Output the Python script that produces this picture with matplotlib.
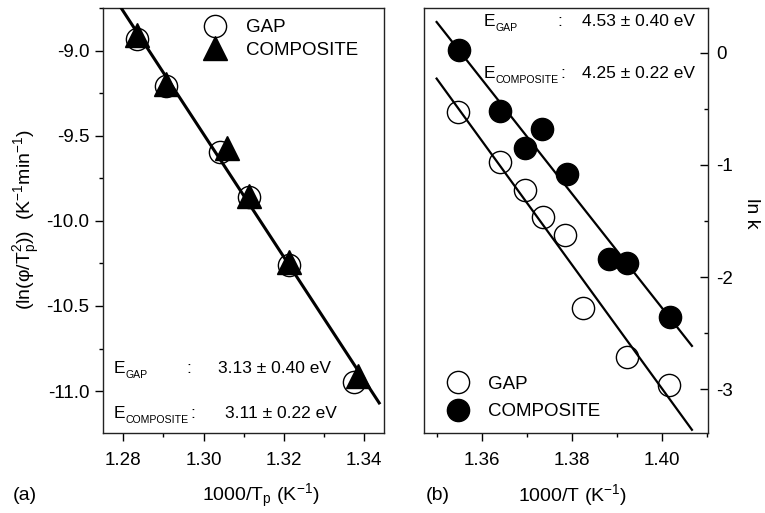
import matplotlib
matplotlib.use('Agg')
import matplotlib.pyplot as plt
from matplotlib.ticker import MultipleLocator

plt.rcParams['font.family'] = ['Liberation Sans', 'DejaVu Sans']
plt.rcParams['mathtext.fontset'] = 'custom'
plt.rcParams['mathtext.rm'] = 'Liberation Sans'
plt.rcParams['mathtext.it'] = 'Liberation Sans:italic'
plt.rcParams['mathtext.bf'] = 'Liberation Sans:bold'

# ---------------- data: panel (a) ----------------
a_gap_x = [1.2834, 1.2907, 1.3042, 1.3113, 1.3214, 1.3375]
a_gap_y = [-8.929, -9.205, -9.595, -9.857, -10.260, -10.946]
a_comp_x = [1.2834, 1.2907, 1.3059, 1.3113, 1.3214, 1.3386]
a_comp_y = [-8.907, -9.195, -9.570, -9.852, -10.242, -10.913]
a_fit_x = [1.2795, 1.3438]
a_fit_y = [-8.75, -11.07]
a_xticks = [1.28, 1.30, 1.32, 1.34]
a_yticks = [-9.0, -9.5, -10.0, -10.5, -11.0]

# ---------------- data: panel (b) ----------------
b_gap_x = [1.3548, 1.3641, 1.3696, 1.3736, 1.3785, 1.3826, 1.3922, 1.4017]
b_gap_y = [-0.529, -0.973, -1.225, -1.463, -1.626, -2.278, -2.708, -2.960]
b_comp_x = [1.3550, 1.3641, 1.3734, 1.3696, 1.3789, 1.3883, 1.3922, 1.4019]
b_comp_y = [0.027, -0.522, -0.685, -0.849, -1.083, -1.842, -1.872, -2.352]
b_fit_x = [1.3500, 1.4067]
b_fit_gap = [-0.232, -3.360]
b_fit_comp = [0.272, -2.613]
b_xticks = [1.36, 1.38, 1.40]
b_yticks = [0, -1, -2, -3]

series_labels = ['GAP', 'COMPOSITE']
a_energy = ['3.13 \u00b1 0.40 eV', '3.11 \u00b1 0.22 eV']
b_energy = ['4.53 \u00b1 0.40 eV', '4.25 \u00b1 0.22 eV']

FS = 13.5
W, H = 765, 513
fig = plt.figure(figsize=(W / 100, H / 100), dpi=100)

def frac_box(l, t, r, b):
    return [l / W, 1 - b / H, (r - l) / W, (b - t) / H]

axa = fig.add_axes(frac_box(103.3, 8.3, 384, 432.7))
axb = fig.add_axes(frac_box(424, 8.3, 707.7, 432.7))

for ax in (axa, axb):
    for s in ax.spines.values():
        s.set_linewidth(1.0)
        s.set_color('#222222')

EF = 12.5
SF = 7.6

def energy_row(ax, x, y, sub, colon_x, val_x, val):
    ax.text(x, y, 'E', transform=ax.transAxes, fontsize=EF, va='baseline', ha='left')
    ax.annotate(sub, xy=(x, y), xycoords='axes fraction', xytext=(8.6, -3.6),
                textcoords='offset points', fontsize=SF, va='baseline', ha='left')
    ax.text(colon_x, y, ':', transform=ax.transAxes, fontsize=EF,
            va='baseline', ha='center')
    ax.text(val_x, y, val, transform=ax.transAxes, fontsize=EF,
            va='baseline', ha='left')

# ---- panel (a) ----
axa.plot(a_gap_x, a_gap_y, 'o', ms=16, mfc='none', mec='black', mew=1.0,
         label=series_labels[0], zorder=2)
axa.plot(a_comp_x, a_comp_y, '^', ms=17, mfc='black', mec='black',
         label=series_labels[1], zorder=3)
axa.plot(a_fit_x, a_fit_y, '-', color='black', lw=2.2, zorder=4)
axa.set_xlim(1.275, 1.345)
axa.set_ylim(-11.245, -8.75)
axa.set_xticks(a_xticks)
axa.set_xticklabels([f'{v:.2f}' for v in a_xticks])
axa.set_yticks(a_yticks)
axa.set_yticklabels([f'{v:.1f}' for v in a_yticks])
axa.xaxis.set_minor_locator(MultipleLocator(0.01))
axa.yaxis.set_minor_locator(MultipleLocator(0.25))
axa.tick_params(which='both', direction='out', labelsize=FS, width=1.0,
                top=False, right=False)
axa.tick_params(which='major', length=6)
axa.tick_params(which='minor', length=3)
axa.tick_params(axis='x', pad=8)
axa.tick_params(axis='y', pad=4)
axa.legend(loc='center left', bbox_to_anchor=(0.3634, 0.928), frameon=False,
           fontsize=FS, handlelength=1.0, handletextpad=1.18, labelspacing=0.28,
           borderpad=0, borderaxespad=0, numpoints=1)

energy_row(axa, 0.0356, 0.1415, series_labels[0], 0.303, 0.4097, a_energy[0])
energy_row(axa, 0.0356, 0.0355, series_labels[1], 0.3196, 0.4336, a_energy[1])

# ---- panel (b) ----
axb.plot(b_gap_x, b_gap_y, 'o', ms=16, mfc='none', mec='black', mew=1.0,
         label=series_labels[0], zorder=2)
axb.plot(b_comp_x, b_comp_y, 'o', ms=16, mfc='black', mec='black',
         label=series_labels[1], zorder=3)
axb.plot(b_fit_x, b_fit_gap, '-', color='black', lw=1.6, zorder=4)
axb.plot(b_fit_x, b_fit_comp, '-', color='black', lw=1.6, zorder=4)
axb.set_xlim(1.3472, 1.4102)
axb.set_ylim(-3.386, 0.394)
axb.set_xticks(b_xticks)
axb.set_xticklabels([f'{v:.2f}' for v in b_xticks])
axb.set_yticks(b_yticks)
axb.set_yticklabels([f'{v:d}' for v in b_yticks])
axb.xaxis.set_minor_locator(MultipleLocator(0.01))
axb.yaxis.set_minor_locator(MultipleLocator(0.5))
axb.yaxis.tick_right()
axb.tick_params(axis='x', which='both', direction='out', labelsize=FS, width=1.0,
                top=False, pad=8)
axb.tick_params(axis='y', which='both', direction='in', labelsize=FS, width=1.0,
                left=False, right=True, labelright=True, labelleft=False, pad=6)
axb.tick_params(which='major', length=6)
axb.tick_params(which='minor', length=3)
axb.legend(loc='center left', bbox_to_anchor=(0.0878, 0.0822), frameon=False,
           fontsize=FS, handlelength=1.0, handletextpad=1.1, labelspacing=0.55,
           borderpad=0, borderaxespad=0, numpoints=1)

energy_row(axb, 0.209, 0.9584, series_labels[0], 0.479, 0.556, b_energy[0])
energy_row(axb, 0.209, 0.8366, series_labels[1], 0.490, 0.556, b_energy[1])

# ---- axis labels ----
LF = 14
fig.text(27 / W, 1 - 220 / H,
         '(ln(\u03c6/T$_{\\mathregular{p}}^{\\mathregular{2}}$))  (K$^{\\mathregular{-1}}$min$^{\\mathregular{-1}}$)',
         rotation=90, ha='center', va='center', fontsize=LF)
fig.text(261 / W, 1 - 496 / H, '1000/T$_{\\mathregular{p}}$ (K$^{\\mathregular{-1}}$)',
         ha='center', va='center', fontsize=LF)
fig.text(13 / W, 1 - 496 / H, '(a)', ha='left', va='center', fontsize=LF)
fig.text(572.7 / W, 1 - 495 / H, '1000/T (K$^{\\mathregular{-1}}$)',
         ha='center', va='center', fontsize=LF)
fig.text(426 / W, 1 - 495 / H, '(b)', ha='left', va='center', fontsize=LF)
fig.text(751.7 / W, 1 - 213 / H, 'ln k', rotation=270, ha='center', va='center',
         fontsize=LF)

fig.savefig('out.png', dpi=100)
